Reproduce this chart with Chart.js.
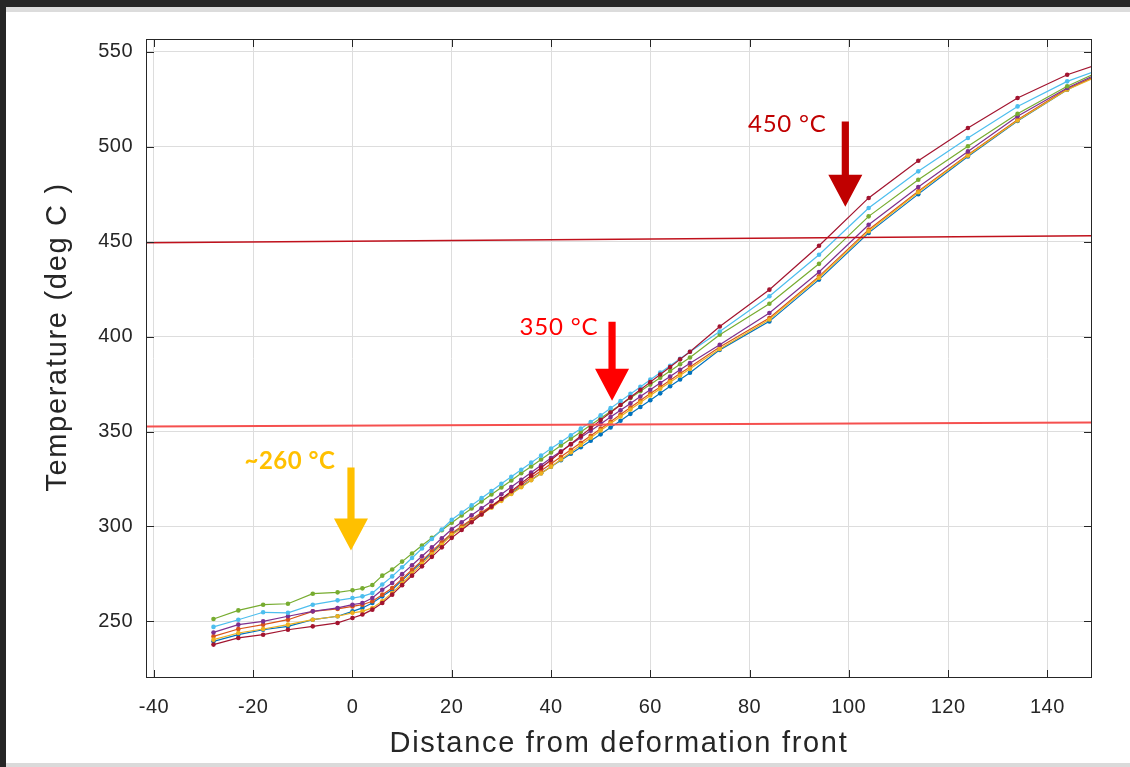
<!DOCTYPE html>
<html><head><meta charset="utf-8">
<script src="https://cdn.jsdelivr.net/npm/chart.js@4.4.1/dist/chart.umd.min.js"></script>
<style>
html,body{margin:0;padding:0;background:#262626;width:1130px;height:767px;overflow:hidden}
#panel{position:absolute;left:6px;top:7px;width:1124px;height:760px;background:#fff}
#topband{position:absolute;left:6px;top:7px;width:1124px;height:5px;background:#dcdcdc}
#botband{position:absolute;left:6px;top:763px;width:1124px;height:4px;background:#dadada}
#wrap{position:absolute;left:0;top:0;width:1130px;height:767px}
</style></head><body>
<div id="panel"></div><div id="topband"></div><div id="botband"></div>
<div id="wrap"><canvas id="c" width="1130" height="767"></canvas></div>
<script>
const xValues = [-28,-23,-18,-13,-8,-3,0,2,4,6,8,10,12,14,16,18,20,22,24,26,28,30,32,34,36,38,40,42,44,46,48,50,52,54,56,58,60,62,64,66,68,74,84,94,104,114,124,134,144,150];
const seriesBlue = [239.5,243.0,245.6,247.4,250.9,252.7,255.3,257.1,259.7,263.2,266.7,271.6,276.5,281.3,286.2,291.1,296.0,299.6,303.2,306.8,310.4,314.0,317.5,321.0,324.5,328.0,331.5,334.9,338.3,341.7,345.1,348.5,352.1,355.7,359.3,362.9,366.5,370.1,373.8,377.4,381.0,393.0,408.0,430.0,454.6,475.0,494.8,513.5,530.0,537.6];
const seriesOrange = [242.1,246.0,248.3,250.9,255.3,256.6,257.9,258.8,260.6,264.1,267.6,272.4,277.2,282.0,286.9,291.7,296.5,300.1,303.7,307.3,310.9,314.5,318.2,321.9,325.6,329.3,333.0,336.7,340.4,344.1,347.8,351.5,355.2,358.9,362.6,366.3,370.0,373.5,377.0,380.5,384.0,394.5,409.8,431.7,456.3,476.5,495.8,514.2,530.5,537.4];
const seriesYellow = [240.4,243.9,246.0,248.3,250.9,252.7,254.5,255.3,257.1,260.6,265.0,270.1,275.2,280.3,285.3,290.4,295.5,299.1,302.7,306.3,309.9,313.5,317.1,320.7,324.3,327.9,331.5,335.3,339.1,342.9,346.7,350.5,354.2,357.9,361.6,365.3,369.0,372.5,376.0,379.5,383.0,393.5,409.0,431.0,455.5,476.0,495.3,513.8,530.0,536.8];
const seriesPurple = [244.2,248.3,250.0,252.7,255.3,257.1,258.8,259.7,262.3,266.7,270.2,274.9,279.6,284.3,289.0,293.8,298.5,302.2,305.9,309.6,313.3,317.0,320.8,324.6,328.4,332.2,336.0,339.6,343.2,346.8,350.4,354.0,357.6,361.2,364.8,368.4,372.0,375.5,379.0,382.5,386.0,395.7,412.4,434.0,458.9,478.8,497.5,516.0,530.9,538.2];
const seriesGreen = [251.3,255.8,258.8,259.3,264.6,265.3,266.4,267.4,269.2,274.1,277.3,281.5,285.8,290.0,294.0,298.0,302.0,305.8,309.5,313.2,316.8,320.5,324.2,328.0,331.6,335.3,339.0,342.6,346.2,349.8,353.4,357.0,360.5,364.1,367.6,371.2,374.7,378.3,381.9,385.4,389.0,401.0,417.3,438.3,463.3,482.6,500.2,517.3,531.8,539.0];
const seriesLightBlue = [247.1,250.9,254.8,254.5,258.8,261.1,262.3,263.2,264.9,269.4,273.7,278.5,283.4,288.4,293.4,298.4,303.5,307.3,311.1,314.9,318.7,322.5,326.2,329.9,333.6,337.3,341.0,344.5,348.0,351.5,355.0,358.5,362.3,366.0,369.8,373.5,377.3,381.0,384.6,388.3,392.0,402.7,421.2,443.1,467.7,487.0,504.6,521.2,534.4,540.0];
const seriesDarkRed = [237.8,241.3,243.0,245.6,247.4,249.2,251.8,253.6,256.2,259.7,264.1,269.1,274.1,279.0,284.0,289.0,294.0,298.1,302.2,306.3,310.4,314.5,318.6,322.7,326.8,330.9,335.0,339.2,343.4,347.6,351.8,356.0,360.0,364.0,368.0,372.0,376.0,380.0,384.0,388.0,392.0,405.3,424.7,447.8,473.0,492.6,509.8,525.6,537.9,543.2];

const xTicks = [-40,-20,0,20,40,60,80,100,120,140];
const yTicks = [250,300,350,400,450,500,550];
const xRange = [-41.6, 149];
const yRange = [220.2, 556.7];

const refX = [-41.6, 149];
const ref450 = [449.4, 453.1];
const ref350 = [352.6, 354.7];

const arrowX = [99.3, 52.3, -0.3];
const arrowTop = [513.2, 407.8, 331.0];
const arrowTip = [468.4, 366.2, 287.3];
const labelText = ['450 °C', '350 °C', '~260 °C'];
const labelX = [87.6, 41.6, -12.6];
const labelY = [511.6, 404.7, 334.1];

const xTitle = 'Distance from deformation front';
const yTitle = 'Temperature (deg C )';

const seriesList = [
  {d: seriesBlue, c: '#0072BD', o: 6},
  {d: seriesOrange, c: '#D95319', o: 5},
  {d: seriesYellow, c: '#EDB120', o: 4},
  {d: seriesPurple, c: '#7E2F8E', o: 3},
  {d: seriesGreen, c: '#77AC30', o: 2},
  {d: seriesLightBlue, c: '#4DBEEE', o: 1},
  {d: seriesDarkRed, c: '#A2142F', o: 0}
];

const datasets = seriesList.map(s => ({
  data: xValues.map((x, i) => ({x: x, y: s.d[i]})),
  borderColor: s.c, backgroundColor: s.c, pointBackgroundColor: s.c,
  borderWidth: 1.2, pointRadius: 2.3, pointBorderWidth: 0, pointHoverRadius: 0,
  tension: 0, order: s.o, clip: 0
}));
datasets.push({
  data: refX.map((x, i) => ({x: x, y: ref450[i]})),
  borderColor: '#C0111C', borderWidth: 1.6, pointRadius: 0, order: -2, clip: 0
});
datasets.push({
  data: refX.map((x, i) => ({x: x, y: ref350[i]})),
  borderColor: '#F5504F', borderWidth: 2, pointRadius: 0, order: -1, clip: 0
});

const FONT = "'Liberation Sans', Arial, sans-serif";

const decor = {
  id: 'decor',
  beforeDraw(chart) {
    chart.ctx.letterSpacing = '0.5px';
  },
  afterDraw(chart) {
    const {ctx, chartArea: a, scales: {x, y}} = chart;
    ctx.save();
    ctx.letterSpacing = '0px';
    ctx.strokeStyle = '#262626';
    ctx.lineWidth = 1;
    ctx.strokeRect(a.left + 0.5, a.top + 0.5, a.right - a.left - 1, a.bottom - a.top - 1);
    ctx.beginPath();
    xTicks.forEach(v => {
      const p = Math.round(x.getPixelForValue(v)) + 0.5;
      ctx.moveTo(p, a.bottom); ctx.lineTo(p, a.bottom - 8);
      ctx.moveTo(p, a.top); ctx.lineTo(p, a.top + 8);
    });
    yTicks.forEach(v => {
      const p = Math.round(y.getPixelForValue(v)) + 0.5;
      ctx.moveTo(a.left, p); ctx.lineTo(a.left + 8, p);
      ctx.moveTo(a.right, p); ctx.lineTo(a.right - 8, p);
    });
    ctx.stroke();

    const arrowColors = ['#C00000', '#FF0000', '#FFC000'];
    arrowX.forEach((v, i) => {
      const cx = x.getPixelForValue(v);
      const yt = y.getPixelForValue(arrowTop[i]);
      const yp = y.getPixelForValue(arrowTip[i]);
      const hl = 32, hh = 17, sh = 3.6;
      ctx.fillStyle = arrowColors[i];
      ctx.beginPath();
      ctx.moveTo(cx - sh, yt); ctx.lineTo(cx + sh, yt);
      ctx.lineTo(cx + sh, yp - hl); ctx.lineTo(cx + hh, yp - hl);
      ctx.lineTo(cx, yp); ctx.lineTo(cx - hh, yp - hl);
      ctx.lineTo(cx - sh, yp - hl); ctx.closePath(); ctx.fill();
    });
    const labelFonts = ["400 24px Lato, 'Open Sans', sans-serif", "400 24px Lato, 'Open Sans', sans-serif", "700 24px Lato, 'Open Sans', sans-serif"];
    ctx.textAlign = 'center'; ctx.textBaseline = 'middle';
    labelText.forEach((t, i) => {
      ctx.font = labelFonts[i];
      ctx.fillStyle = arrowColors[i];
      ctx.letterSpacing = i === 2 ? '0.5px' : '0.8px';
      ctx.fillText(t, x.getPixelForValue(labelX[i]), y.getPixelForValue(labelY[i]));
    });

    ctx.fillStyle = '#262626';
    ctx.font = '29px ' + FONT;
    ctx.letterSpacing = '1.7px';
    ctx.textAlign = 'center'; ctx.textBaseline = 'alphabetic';
    ctx.fillText(xTitle, (a.left + a.right) / 2, a.bottom + 74);
    ctx.translate(a.left - 80, a.top + 298);
    ctx.rotate(-Math.PI / 2);
    ctx.fillText(yTitle, 0, 0);
    ctx.restore();
  }
};

new Chart(document.getElementById('c'), {
  type: 'line',
  data: {datasets: datasets},
  options: {
    responsive: false, animation: false, devicePixelRatio: 1,
    layout: {padding: {left: 0, top: 39, right: 38, bottom: 0}},
    plugins: {legend: {display: false}, tooltip: {enabled: false}},
    events: [],
    scales: {
      x: {
        type: 'linear', min: xRange[0], max: xRange[1],
        afterFit: s => { s.height = 89; },
        afterBuildTicks: s => { s.ticks = xTicks.map(v => ({value: v})); },
        grid: {color: '#DDDDDD', lineWidth: 1, drawTicks: false},
        border: {display: false},
        ticks: {padding: 17, color: '#262626', font: {family: FONT, size: 20}, maxRotation: 0, autoSkip: false}
      },
      y: {
        type: 'linear', min: yRange[0], max: yRange[1],
        afterFit: s => { s.width = 146; },
        afterBuildTicks: s => { s.ticks = yTicks.map(v => ({value: v})); },
        grid: {color: '#DDDDDD', lineWidth: 1, drawTicks: false},
        border: {display: false},
        ticks: {padding: 13, color: '#262626', font: {family: FONT, size: 20}, autoSkip: false}
      }
    }
  },
  plugins: [decor]
});
</script>
</body></html>
